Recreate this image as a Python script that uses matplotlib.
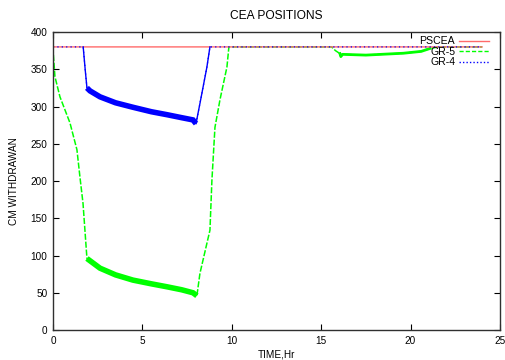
import numpy as np
import matplotlib.pyplot as plt
from matplotlib.lines import Line2D

plt.rcParams['font.family'] = ['Liberation Sans', 'DejaVu Sans']
plt.rcParams['font.size'] = 7.2

# PSCEA position
pscea_t = [0, 0.02, 24]
pscea_v = [365, 380, 380]

# GR-5 position
gr5_t = [0, 0.02, 0.11, 0.39, 0.95, 1.34, 1.51, 1.68, 1.9, 2.63, 3.5, 4.47, 5.5, 6.38,
         7.2, 7.83, 8.05, 8.22, 8.5, 8.78, 8.89, 9.06, 9.34, 9.73, 9.84,
         15.58, 15.8, 16.05, 16.1, 16.2, 17.5, 19.6, 20.6, 21.1, 21.6, 24]
gr5_v = [380, 370, 340, 313, 278, 242, 205, 170, 96, 83, 74, 67, 62, 58,
         54, 50, 46, 76, 105, 134, 201, 272, 309, 353, 380,
         380, 375, 371, 367, 370, 369, 371.5, 374, 378, 380, 380]

# GR-4 position
gr4_t = [0, 1.69, 1.8, 1.9, 2.07, 2.63, 3.5, 4.47, 5.5, 6.38, 7.2, 7.83, 8.0,
         8.22, 8.61, 8.78, 24]
gr4_v = [380, 380, 350, 325, 321, 313, 305, 299, 293, 289, 285, 282, 277,
         304, 353, 380, 380]

red = '#ff6a6a'
green = '#00ff00'
blue = '#0000ff'

fig = plt.figure(figsize=(5.06, 3.6), dpi=100)
ax = fig.add_axes([0.1047, 0.0833, 0.8833, 0.8278])

t5 = np.array(gr5_t)
v5 = np.array(gr5_v)
ax.plot(t5, v5, color=green, lw=1.1, dashes=(4, 1.2))
# noisy stretches drawn as a thick band
band = (t5 >= 1.9) & (t5 <= 8.05)
ax.plot(t5[band], v5[band], color=green, lw=4.0, solid_capstyle='butt',
        solid_joinstyle='miter')
band2 = (t5 >= 16.05) & (t5 <= 21.1)
ax.plot(t5[band2], v5[band2], color=green, lw=2.0)

ax.plot(pscea_t, pscea_v, color=red, lw=1.0)

t4 = np.array(gr4_t)
v4 = np.array(gr4_v)
ax.plot(t4, v4, color=blue, lw=0.9, dashes=(1, 2.5))
down = (t4 >= 1.69) & (t4 <= 1.9)
up = (t4 >= 8.0) & (t4 <= 8.78)
ax.plot(t4[down], v4[down], color=blue, lw=1.0)
ax.plot(t4[up], v4[up], color=blue, lw=1.0)
band = (t4 >= 1.9) & (t4 <= 8.0)
ax.plot(t4[band], v4[band], color=blue, lw=4.0, solid_capstyle='butt',
        solid_joinstyle='miter')

ax.set_xlim(0, 25)
ax.set_ylim(0, 400)
ax.set_xticks(range(0, 26, 5))
ax.set_yticks(range(0, 401, 50))
ax.tick_params(direction='in', top=True, right=True, length=4, width=0.8, pad=4)
for s in ax.spines.values():
    s.set_linewidth(1.0)
    s.set_color('#303030')

ax.set_title('CEA POSITIONS', pad=9.5)
ax.set_xlabel('TIME,Hr', labelpad=3)
ax.set_ylabel('CM WITHDRAWAN', labelpad=8.5)

handles = [Line2D([], [], color=red, lw=1.0),
           Line2D([], [], color=green, lw=1.0, dashes=(3, 1.5)),
           Line2D([], [], color=blue, lw=1.0, dashes=(1, 1.5))]
ax.legend(handles, ['PSCEA', 'GR-5', 'GR-4'], loc='upper right', markerfirst=False,
          frameon=False, handlelength=2.8, handletextpad=0.4, labelspacing=0.05,
          borderaxespad=0.0, bbox_to_anchor=(0.985, 1.0), fontsize=7.6)

fig.savefig('out.png', dpi=100)
